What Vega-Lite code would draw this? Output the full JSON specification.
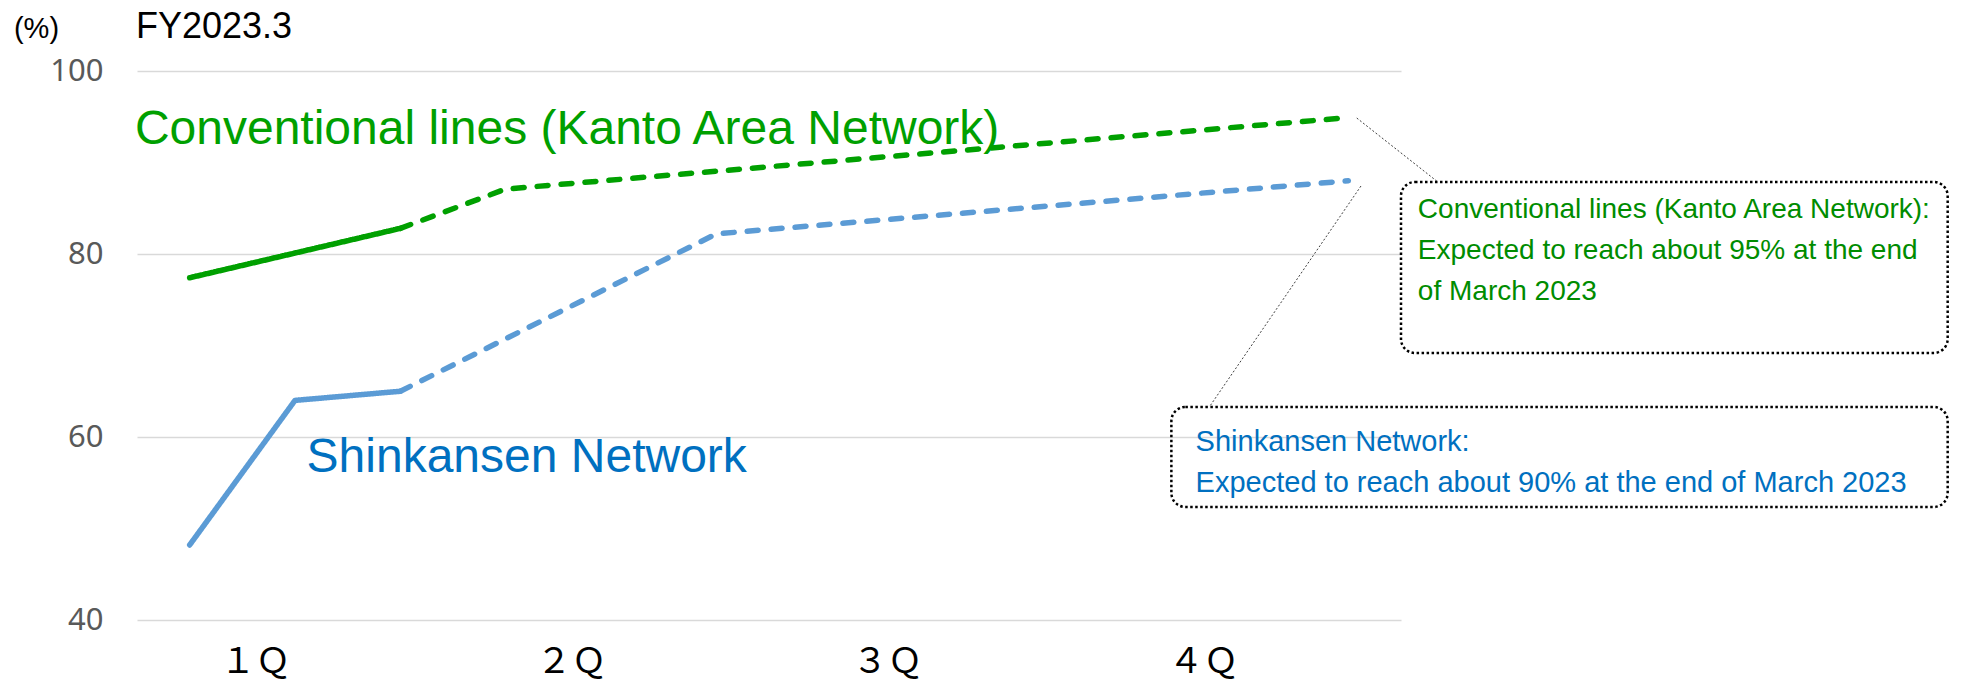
{
  "$schema": "https://vega.github.io/schema/vega-lite/v6.json",
  "width": 1264,
  "height": 549,
  "autosize": {"type": "none"},
  "padding": {"left": 137, "top": 71, "right": 563, "bottom": 63},
  "background": "white",
  "config": {"view": {"stroke": null}, "text": {"font": "Liberation Sans"}},
  "datasets": {
    "series": [
      {"series": "Conventional lines (Kanto Area Network)", "seg": "actual", "m": 0, "v": 77.4},
      {"series": "Conventional lines (Kanto Area Network)", "seg": "actual", "m": 2, "v": 82.8},
      {"series": "Conventional lines (Kanto Area Network)", "seg": "forecast", "m": 2, "v": 82.8},
      {"series": "Conventional lines (Kanto Area Network)", "seg": "forecast", "m": 3, "v": 87.1},
      {"series": "Conventional lines (Kanto Area Network)", "seg": "forecast", "m": 11, "v": 94.9},
      {"series": "Shinkansen Network", "seg": "actual", "m": 0, "v": 48.2},
      {"series": "Shinkansen Network", "seg": "actual", "m": 1, "v": 64.0},
      {"series": "Shinkansen Network", "seg": "actual", "m": 2, "v": 65.0},
      {"series": "Shinkansen Network", "seg": "forecast", "m": 2, "v": 65.0},
      {"series": "Shinkansen Network", "seg": "forecast", "m": 5, "v": 82.2},
      {"series": "Shinkansen Network", "seg": "forecast", "m": 11, "v": 88.0}
    ]
  },
  "layer": [
    {
      "data": {"name": "series"},
      "mark": {"type": "line", "strokeWidth": 5.5, "strokeCap": "round", "strokeJoin": "round"},
      "encoding": {
        "x": {
          "field": "m", "type": "quantitative",
          "scale": {"domain": [-0.5, 11.5], "nice": false, "zero": false},
          "axis": {
            "values": [1, 4, 7, 10],
            "labelExpr": "datum.value < 2 ? '１Ｑ' : datum.value < 5 ? '２Ｑ' : datum.value < 8 ? '３Ｑ' : '４Ｑ'",
            "grid": false, "ticks": false, "domain": false,
            "labelOffset": -40, "labelPadding": 24,
            "labelFont": "Noto Sans CJK JP", "labelFontSize": 35, "labelColor": "black",
            "title": null
          }
        },
        "y": {
          "field": "v", "type": "quantitative",
          "scale": {"domain": [40, 100], "nice": false, "zero": false},
          "axis": {
            "values": [40, 60, 80, 100],
            "grid": true, "gridColor": "#d9d9d9", "gridWidth": 1.5,
            "ticks": false, "domain": false,
            "labelFont": "Noto Sans", "labelFontSize": 31, "labelColor": "#595959", "labelPadding": 34,
            "title": "(%)", "titleAngle": 0, "titleX": -101, "titleY": -43,
            "titleAlign": "center", "titleBaseline": "middle",
            "titleFont": "Liberation Sans", "titleFontSize": 29, "titleFontWeight": "normal", "titleColor": "black"
          }
        },
        "color": {
          "field": "series", "type": "nominal",
          "scale": {"domain": ["Conventional lines (Kanto Area Network)", "Shinkansen Network"], "range": ["#00a000", "#5b9bd5"]},
          "legend": null
        },
        "strokeDash": {
          "field": "seg", "type": "nominal",
          "scale": {"domain": ["actual", "forecast"], "range": [[1, 0], [11, 13]]},
          "legend": null
        }
      }
    },
    {
      "data": {"values": [{}]},
      "mark": {"type": "text", "text": "FY2023.3", "align": "left", "baseline": "alphabetic", "fontSize": 36, "color": "black", "font": "Liberation Sans"},
      "encoding": {
        "x": {"datum": -0.51, "type": "quantitative"},
        "y": {"datum": 103.6, "type": "quantitative"}
      }
    },
    {
      "data": {"values": [{}]},
      "mark": {"type": "rule", "stroke": "#404040", "strokeWidth": 1, "strokeDash": [2, 2]},
      "encoding": {
        "x": {"datum": 11.08, "type": "quantitative"},
        "y": {"datum": 94.86, "type": "quantitative"},
        "x2": {"datum": 11.85},
        "y2": {"datum": 87.87}
      }
    },
    {
      "data": {"values": [{}]},
      "mark": {"type": "rule", "stroke": "#404040", "strokeWidth": 1, "strokeDash": [2, 2]},
      "encoding": {
        "x": {"datum": 11.12, "type": "quantitative"},
        "y": {"datum": 87.43, "type": "quantitative"},
        "x2": {"datum": 9.68},
        "y2": {"datum": 63.28}
      }
    },
    {
      "data": {"values": [{}]},
      "mark": {"type": "rect", "fill": "transparent", "stroke": "black", "strokeWidth": 2.5, "strokeDash": [2.5, 2.5], "cornerRadius": 14},
      "encoding": {
        "x": {"datum": 11.5, "type": "quantitative"},
        "x2": {"datum": 16.69},
        "y": {"datum": 87.87, "type": "quantitative"},
        "y2": {"datum": 69.18}
      }
    },
    {
      "data": {"values": [{}]},
      "mark": {"type": "rect", "fill": "transparent", "stroke": "black", "strokeWidth": 2.5, "strokeDash": [2.5, 2.5], "cornerRadius": 14},
      "encoding": {
        "x": {"datum": 9.32, "type": "quantitative"},
        "x2": {"datum": 16.69},
        "y": {"datum": 63.28, "type": "quantitative"},
        "y2": {"datum": 52.35}
      }
    },
    {
      "data": {"values": [{}]},
      "mark": {"type": "text", "text": "Conventional lines (Kanto Area Network)", "align": "left", "baseline": "alphabetic", "fontSize": 48, "color": "#00a000", "font": "Liberation Sans"},
      "encoding": {
        "x": {"datum": -0.52, "type": "quantitative"},
        "y": {"datum": 92.0, "type": "quantitative"}
      }
    },
    {
      "data": {"values": [{}]},
      "mark": {"type": "text", "text": "Shinkansen Network", "align": "left", "baseline": "alphabetic", "fontSize": 48, "color": "#0070c0", "font": "Liberation Sans"},
      "encoding": {
        "x": {"datum": 1.11, "type": "quantitative"},
        "y": {"datum": 56.2, "type": "quantitative"}
      }
    },
    {
      "data": {"values": [{}]},
      "mark": {"type": "text", "text": ["Conventional lines (Kanto Area Network):", "Expected to reach about 95% at the end", "of March 2023"], "lineHeight": 41, "align": "left", "baseline": "alphabetic", "fontSize": 28, "color": "#008c00", "font": "Liberation Sans"},
      "encoding": {
        "x": {"datum": 11.66, "type": "quantitative"},
        "y": {"datum": 83.93, "type": "quantitative"}
      }
    },
    {
      "data": {"values": [{}]},
      "mark": {"type": "text", "text": ["Shinkansen Network:", "Expected to reach about 90% at the end of March 2023"], "lineHeight": 41, "align": "left", "baseline": "alphabetic", "fontSize": 29, "color": "#0070c0", "font": "Liberation Sans"},
      "encoding": {
        "x": {"datum": 9.55, "type": "quantitative"},
        "y": {"datum": 58.47, "type": "quantitative"}
      }
    }
  ]
}
